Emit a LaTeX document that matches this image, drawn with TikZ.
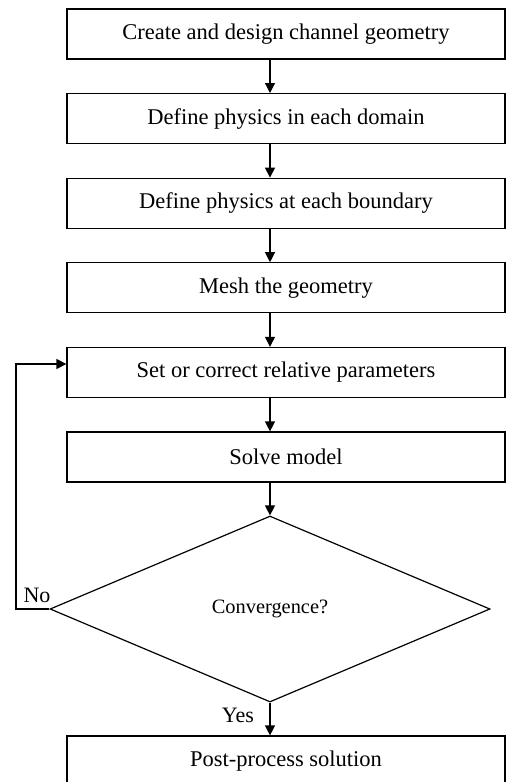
\documentclass[tikz,border=0pt]{standalone}
\usepackage{fontspec}
\setmainfont{Liberation Serif}
\usetikzlibrary{shapes.geometric,arrows.meta}

\tikzset{
  stepbox/.style={draw,line width=0.6pt,minimum width=219pt,minimum height=25pt,inner sep=0pt,
    font=\fontsize{11.25}{13}\selectfont},
  check/.style={draw,line width=0.6pt,diamond,minimum width=220pt,minimum height=93pt,inner sep=0pt,
    font=\fontsize{10.2}{12}\selectfont},
  flow/.style={line width=0.6pt,-{Triangle[length=5pt,width=5pt]}},
  answer/.style={inner sep=0pt,font=\fontsize{11}{13}\selectfont}
}

\begin{document}
\begin{tikzpicture}[x=0.5pt,y=-0.5pt]
  \clip (0,0) rectangle (507,782);
  % steps
  \node[stepbox] (geom) at(286,34){Create and design channel geometry};
  \node[stepbox] (domain) at(286,118.6){Define physics in each domain};
  \node[stepbox] (bound) at(286,203.2){Define physics at each boundary};
  \node[stepbox] (mesh) at(286,287.8){Mesh the geometry};
  \node[stepbox] (param) at(286,372.4){Set or correct relative parameters};
  \node[stepbox] (solve) at(286,457){Solve model};
  % decision
  \node[check] (conv) at(270,609){Convergence?};
  \node[stepbox] (post) at(286,761){Post-process solution};
  % labels
  \node[answer] (no) at(37,595){No};
  \node[answer] (yes) at(238,715){Yes};
  % arrows
  \draw[flow] (geom.south -| conv) -- (domain.north -| conv);
  \draw[flow] (domain.south -| conv) -- (bound.north -| conv);
  \draw[flow] (bound.south -| conv) -- (mesh.north -| conv);
  \draw[flow] (mesh.south -| conv) -- (param.north -| conv);
  \draw[flow] (param.south -| conv) -- (solve.north -| conv);
  \draw[flow] (solve.south -| conv) -- (conv.north);
  \draw[flow] (conv.south) -- (post.north -| conv);
  % loop back
  \coordinate (back) at(16,364);
  \draw[flow] (conv.west) -| (back) -- (back -| param.west);
\end{tikzpicture}
\end{document}
